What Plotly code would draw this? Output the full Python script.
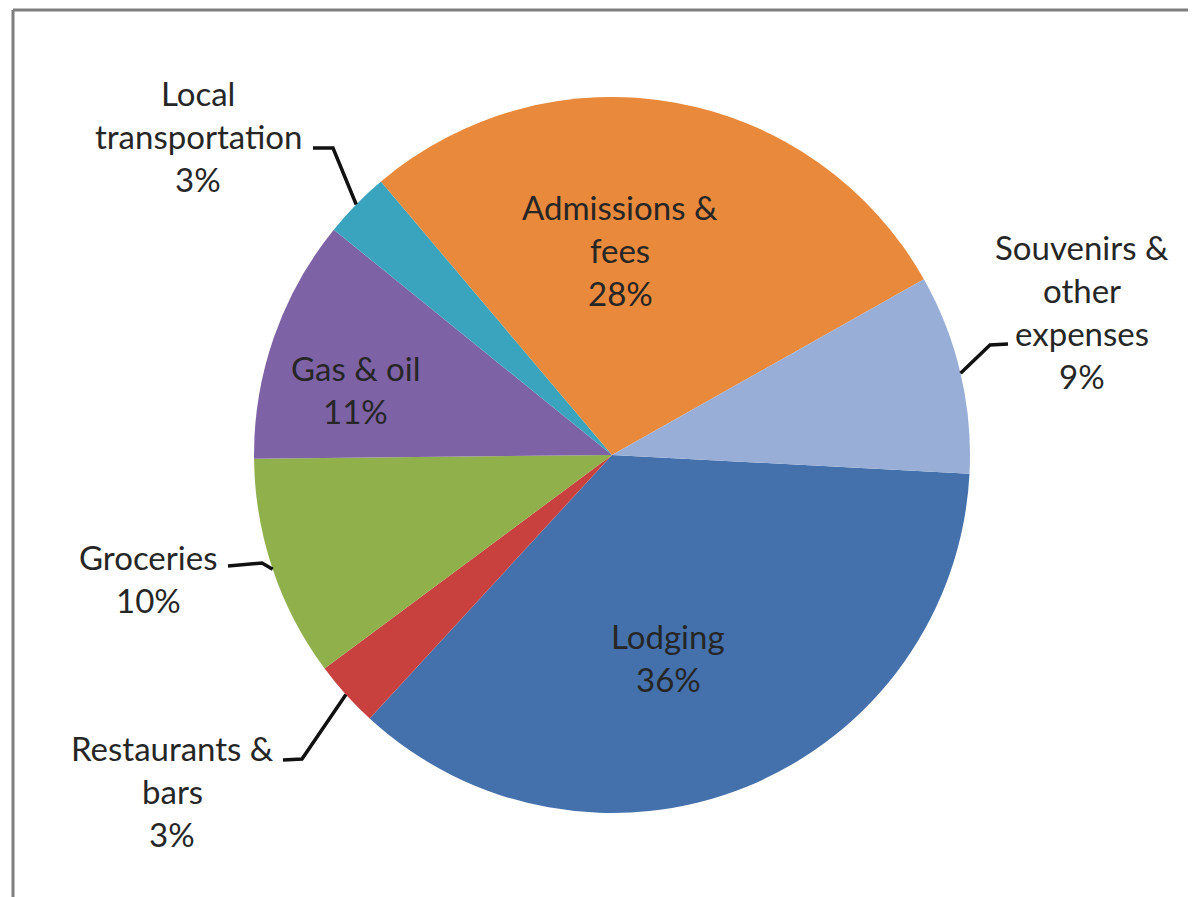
import math
import plotly.graph_objects as go

# ---- data ----
categories = ["Lodging", "Restaurants &\nbars", "Groceries", "Gas & oil",
              "Local\ntransportation", "Admissions &\nfees", "Souvenirs &\nother\nexpenses"]
values = [36, 3, 10, 11, 3, 28, 9]
colors = ["#4471AC", "#C8413F", "#8FB04A", "#7E62A6", "#3AA4BE", "#E8893C", "#98AED6"]

# ---- layout constants (pixels in the screenshot) ----
W, H = 1196, 897
OFF = 8  # page body margin
CX, CY, R = 612, 455, 358
ROT = 93
LINE_H = 43
FONT = dict(family="Lato, 'Open Sans', sans-serif", size=33, color="#262626")

# label centres (x, first-line y)
label_pos = {
    "Lodging": (668, 636),
    "Restaurants &\nbars": (172, 748),
    "Groceries": (148, 557),
    "Gas & oil": (356, 368),
    "Local\ntransportation": (198, 93),
    "Admissions &\nfees": (620, 207),
    "Souvenirs &\nother\nexpenses": (1082, 247),
}
# leader lines: elbow and end point for outside labels
leaders = {
    "Restaurants &\nbars": [(302, 759), (283, 760)],
    "Groceries": [(262, 563), (228, 566)],
    "Local\ntransportation": [(333, 148), (313, 148)],
    "Souvenirs &\nother\nexpenses": [(990, 345), (1008, 344)],
}

def px(x):
    return (x - OFF) / W

def py(y):
    return 1 - (y - OFF) / H

fig = go.Figure(go.Pie(
    labels=[c.replace("\n", " ") for c in categories],
    values=values,
    sort=False,
    direction="clockwise",
    rotation=ROT,
    marker=dict(colors=colors, line=dict(width=0)),
    textinfo="none",
    hoverinfo="label+percent",
    showlegend=False,
    domain=dict(x=[px(CX - R), px(CX + R)], y=[py(CY + R), py(CY - R)]),
))

annotations = []
shapes = []
total = sum(values)
cum = 0
for cat, v in zip(categories, values):
    theta = math.radians(ROT + 360 * (cum + v / 2) / total)
    cum += v
    lines = cat.split("\n") + [f"{round(100 * v / total)}%"]
    lx, ly = label_pos[cat]
    for i, t in enumerate(lines):
        annotations.append(dict(
            x=px(lx), y=py(ly + i * LINE_H), xref="paper", yref="paper",
            text=t, showarrow=False, xanchor="center", yanchor="middle", font=FONT,
        ))
    if cat in leaders:
        ex = CX + R * math.sin(theta)
        ey = CY - R * math.cos(theta)
        pts = [(ex, ey)] + leaders[cat]
        path = "M " + " L ".join(f"{px(a)} {py(b)}" for a, b in pts)
        shapes.append(dict(type="path", path=path, xref="paper", yref="paper",
                           line=dict(color="#111111", width=3.5)))

# chart border (top and left visible)
shapes.append(dict(type="line", xref="paper", yref="paper",
                   x0=px(13), y0=py(10), x1=1, y1=py(10),
                   line=dict(color="#7f7f7f", width=3)))
shapes.append(dict(type="line", xref="paper", yref="paper",
                   x0=px(13), y0=py(10), x1=px(13), y1=0,
                   line=dict(color="#7f7f7f", width=3)))

fig.update_layout(
    width=W, height=H,
    margin=dict(l=0, r=0, t=0, b=0),
    paper_bgcolor="white",
    plot_bgcolor="white",
    annotations=annotations,
    shapes=shapes,
)

fig.write_html("out.html")
